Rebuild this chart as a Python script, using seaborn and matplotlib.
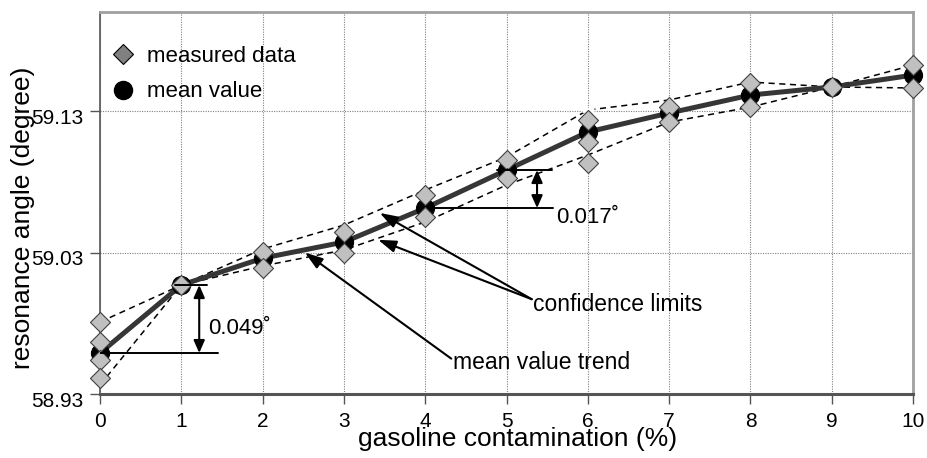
import matplotlib
matplotlib.use("Agg")
import matplotlib.pyplot as plt
import matplotlib.transforms as mtransforms
from matplotlib.lines import Line2D
import seaborn as sns
import pandas as pd

# ---------------- data ----------------
conc = [0, 1, 2, 3, 4, 5, 6, 7, 8, 9, 10]
mean_angle = [58.959, 59.007, 59.026, 59.0374, 59.0614, 59.0883,
              59.1152, 59.1286, 59.1413, 59.147, 59.1554]
upper_limit = [58.9809, 59.007, 59.0325, 59.0494, 59.0742, 59.0975,
               59.1307, 59.1378, 59.1505, 59.147, 59.1625]
lower_limit = [58.9364, 59.007, 59.0205, 59.0318, 59.0516, 59.0777,
               59.0989, 59.1222, 59.1328, 59.147, 59.1463]
measured_conc = [0, 0, 0, 0, 1, 2, 2, 3, 3, 4, 4, 5, 5, 6, 6, 6,
                 7, 7, 8, 8, 9, 10, 10]
measured_angle = [58.9809, 58.9667, 58.9540, 58.9413, 59.007,
                  59.0304, 59.0190, 59.0445, 59.0296, 59.0706, 59.0551,
                  59.0954, 59.0827, 59.1236, 59.1081, 59.0933,
                  59.1328, 59.1222, 59.1498, 59.1328, 59.147,
                  59.1625, 59.1463]
y_ticks = [58.93, 59.03, 59.13]
x_ticks = [0, 1, 2, 3, 4, 5, 6, 7, 8, 9, 10]

df_mean = pd.DataFrame({"conc": conc, "mean": mean_angle,
                        "upper": upper_limit, "lower": lower_limit})
df_meas = pd.DataFrame({"conc": measured_conc, "angle": measured_angle})

# ---------------- style ----------------
sns.set_style("white")
plt.rcParams["font.family"] = ["Liberation Sans", "DejaVu Sans"]
plt.rcParams["text.color"] = "black"
plt.rcParams["axes.labelcolor"] = "black"
plt.rcParams["xtick.color"] = "black"
plt.rcParams["ytick.color"] = "black"

fig = plt.figure(figsize=(9.27, 4.58), dpi=100)
ax = fig.add_axes([0.1079, 0.1397, 0.8771, 0.8341])

# confidence limits
sns.lineplot(data=df_mean, x="conc", y="upper", ax=ax, color="black", lw=1.1,
             linestyle=(0, (4, 3)), zorder=2, clip_on=False,
             marker="_", markevery=[6], markersize=9, mew=3.5)
sns.lineplot(data=df_mean, x="conc", y="lower", ax=ax, color="black", lw=1.1,
             linestyle=(0, (4, 3)), zorder=2, clip_on=False,
             marker="_", markevery=[0], markersize=9, mew=3.5)
# mean trend
sns.lineplot(data=df_mean, x="conc", y="mean", ax=ax, color="#363636", lw=3.6,
             zorder=2.5, clip_on=False)
sns.scatterplot(data=df_mean, x="conc", y="mean", ax=ax, marker="o", s=170,
                color="black", edgecolor="black", linewidth=0.8, zorder=3,
                clip_on=False)
# measured data
sns.scatterplot(data=df_meas, x="conc", y="angle", ax=ax, marker="D", s=104,
                color="#c0c0c0", edgecolor="#404040", linewidth=0.8, zorder=4,
                clip_on=False)

ax.set_xlim(0, 10)
ax.set_ylim(58.93, 59.20)
ax.set_xticks(x_ticks)
ax.set_yticks(y_ticks)
ax.set_yticklabels([f"{v:.2f}" for v in y_ticks])
ax.grid(True, linestyle=(0, (1, 1.2)), color="#808080", lw=0.8)
ax.set_axisbelow(True)

ax.tick_params(axis="both", which="both", bottom=True, left=True,
               direction="out", length=7, width=1, color="#555555",
               labelcolor="black", labelsize=15, pad=6)
ax.tick_params(axis="y", pad=5)
for lab in ax.get_yticklabels():
    lab.set_transform(lab.get_transform() +
                      mtransforms.ScaledTranslation(0, -0.05, fig.dpi_scale_trans))

for side in ["top", "right"]:
    ax.spines[side].set_color("#a0a0a0")
    ax.spines[side].set_linewidth(2)
ax.spines["left"].set_color("#555555")
ax.spines["left"].set_linewidth(1.2)
ax.spines["bottom"].set_color("#555555")
ax.spines["bottom"].set_linewidth(2.2)

ax.set_xlabel("gasoline contamination (%)", fontsize=19, color="black")
ax.set_ylabel("resonance angle (degree)", fontsize=19, color="black")
ax.xaxis.label.set_va("center")
ax.yaxis.label.set_va("center")
ax.xaxis.set_label_coords(0.5135, -0.118)
ax.yaxis.set_label_coords(-0.095, 0.461)

# legend
handles = [
    Line2D([], [], marker="D", linestyle="none", markersize=10,
           markerfacecolor="#808080", markeredgecolor="black", markeredgewidth=0.8),
    Line2D([], [], marker="o", linestyle="none", markersize=13,
           markerfacecolor="black", markeredgecolor="black"),
]
leg = ax.legend(handles, ["measured data", "mean value"], loc="upper left",
                bbox_to_anchor=(-0.007, 0.952), frameon=False, fontsize=16,
                handletextpad=0.45, labelspacing=0.65, borderaxespad=0.3,
                handlelength=1.2)
for t in leg.get_texts():
    t.set_color("black")

# annotations
dbl = dict(arrowstyle="<|-|>,head_length=0.5,head_width=0.22", color="black",
           lw=1.5, mutation_scale=15, shrinkA=0, shrinkB=0)
one = dict(arrowstyle="-|>,head_length=0.6,head_width=0.2", color="black",
           lw=1.5, mutation_scale=18, shrinkA=0, shrinkB=0)

ax.plot([0, 1.45], [mean_angle[0]] * 2, color="black", lw=1.4, zorder=5)
ax.plot([0.92, 1.32], [mean_angle[1]] * 2, color="black", lw=1.4, zorder=5)
ax.annotate("", xy=(1.22, mean_angle[0]), xytext=(1.22, mean_angle[1]),
            arrowprops=dbl, zorder=5)
ax.text(1.33, 58.9766, "0.049\u02da", fontsize=16, va="center", ha="left")

ax.plot([4.1, 5.57], [mean_angle[4]] * 2, color="black", lw=1.4, zorder=5)
ax.plot([4.88, 5.56], [mean_angle[5]] * 2, color="black", lw=1.4, zorder=5)
ax.annotate("", xy=(5.375, mean_angle[4]), xytext=(5.375, mean_angle[5]),
            arrowprops=dbl, zorder=5)
ax.text(5.61, 59.055, "0.017\u02da", fontsize=16, va="center", ha="left")

ax.annotate("", xy=(3.44, 59.058), xytext=(5.31, 58.997), arrowprops=one, zorder=5)
ax.annotate("", xy=(3.42, 59.039), xytext=(5.31, 58.997), arrowprops=one, zorder=5)
ax.text(5.33, 58.993, "confidence limits", fontsize=16.5, va="center", ha="left")

ax.annotate("", xy=(2.52, 59.030), xytext=(4.32, 58.955), arrowprops=one, zorder=5)
ax.text(4.34, 58.952, "mean value trend", fontsize=16.5, va="center", ha="left")

fig.savefig("out.png", dpi=100)
